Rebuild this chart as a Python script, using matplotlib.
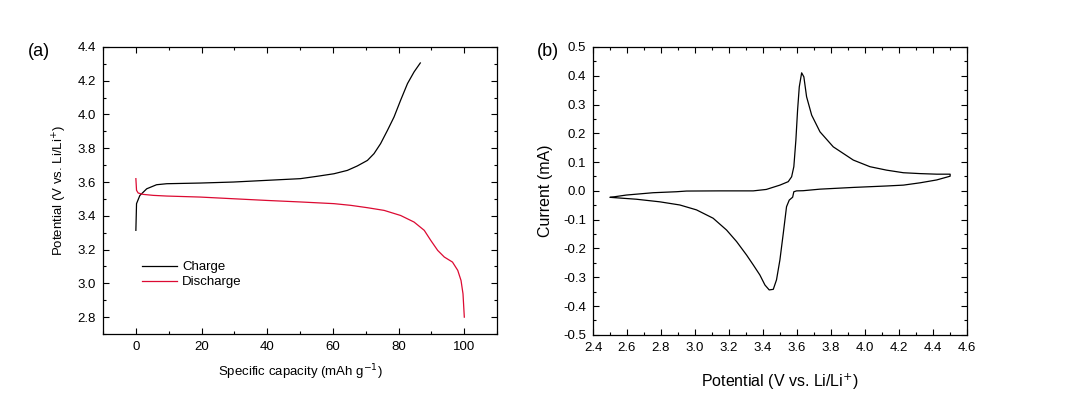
import numpy as np
from matplotlib import pyplot as plt
from matplotlib.ticker import MultipleLocator

plt.rcParams['font.family'] = ['Liberation Sans', 'DejaVu Sans']
plt.rcParams['axes.unicode_minus'] = False

# (a) charge / discharge profile
charge_cap = [0, 0.2, 1.2, 3.3, 6.3, 9.4, 19.6, 29.7, 39.9, 50.1, 55.2, 60.3, 64.4,
              67.4, 70.5, 72.5, 74.5, 76.6, 78.6, 80.6, 82.7, 84.7, 86.6]
charge_v = [3.314, 3.472, 3.52, 3.56, 3.584, 3.59, 3.594, 3.60, 3.61, 3.62, 3.634,
            3.649, 3.669, 3.695, 3.728, 3.768, 3.827, 3.906, 3.985, 4.084, 4.183,
            4.252, 4.305]

discharge_cap = [0, 0.2, 0.7, 2.2, 5.3, 9.4, 19.6, 29.7, 39.9, 50.1, 60.3, 65.4, 70.5,
                 75.6, 80.6, 84.7, 87.8, 89.8, 91.9, 93.9, 96.4, 98.0, 99.0, 99.6, 100]
discharge_v = [3.620, 3.551, 3.535, 3.527, 3.521, 3.517, 3.511, 3.501, 3.491, 3.482,
               3.472, 3.462, 3.448, 3.432, 3.402, 3.363, 3.314, 3.254, 3.195, 3.156,
               3.126, 3.077, 3.017, 2.938, 2.80]

# (b) cyclic voltammogram, anodic then cathodic sweep
cv_v = [2.502, 2.596, 2.754, 2.891, 2.95, 3.146, 3.343, 3.42, 3.50, 3.549, 3.569,
        3.582, 3.594, 3.604, 3.614, 3.628, 3.641, 3.657, 3.687, 3.736, 3.814, 3.932,
        4.03, 4.128, 4.227, 4.325, 4.423, 4.502,
        4.502, 4.423, 4.325, 4.227, 4.128, 3.932, 3.736, 3.637, 3.598, 3.582, 3.575,
        3.555, 3.539, 3.52, 3.50, 3.48, 3.461, 3.437, 3.412, 3.382, 3.343, 3.304,
        3.245, 3.186, 3.107, 3.009, 2.911, 2.793, 2.655, 2.502]
cv_i = [-0.0225, -0.0145, -0.0064, -0.003, -0.0006, 0, 0, 0.005, 0.02, 0.032, 0.049,
        0.084, 0.176, 0.28, 0.361, 0.41, 0.396, 0.327, 0.263, 0.205, 0.153, 0.107,
        0.084, 0.072, 0.063, 0.06, 0.058, 0.058,
        0.051, 0.038, 0.028, 0.02, 0.017, 0.012, 0.006, 0.0006, 0, -0.003, -0.022,
        -0.032, -0.055, -0.147, -0.24, -0.309, -0.342, -0.344, -0.327, -0.292, -0.257,
        -0.223, -0.176, -0.136, -0.095, -0.066, -0.049, -0.038, -0.029, -0.0225]

fig = plt.figure(figsize=(10.71, 4.01), dpi=100)
ax1 = fig.add_axes([0.0962, 0.167, 0.368, 0.716])
ax2 = fig.add_axes([0.5537, 0.165, 0.349, 0.718])

ax1.plot(charge_cap, charge_v, color='black', lw=0.9, label='Charge')
ax1.plot(discharge_cap, discharge_v, color='#dc0a32', lw=0.9, label='Discharge')
ax1.set_xlim(-10, 110)
ax1.set_ylim(2.7, 4.4)
ax1.xaxis.set_major_locator(MultipleLocator(20))
ax1.xaxis.set_minor_locator(MultipleLocator(10))
ax1.yaxis.set_major_locator(MultipleLocator(0.2))
ax1.yaxis.set_minor_locator(MultipleLocator(0.1))
ax1.set_xlabel('Specific capacity (mAh g$^{-1}$)', fontsize=9.5, labelpad=7)
ax1.set_ylabel('Potential (V vs. Li/Li$^{+}$)', fontsize=9.5, labelpad=6)
ax1.legend(loc='upper left', bbox_to_anchor=(0.07, 0.295), frameon=False, fontsize=9.5,
           handlelength=2.6, handletextpad=0.4, labelspacing=0.2)
ax1.text(-0.19, 0.985, '(a)', transform=ax1.transAxes, fontsize=13, va='center')

ax2.plot(cv_v, cv_i, color='black', lw=0.9)
ax2.set_xlim(2.4, 4.6)
ax2.set_ylim(-0.5, 0.5)
ax2.xaxis.set_major_locator(MultipleLocator(0.2))
ax2.xaxis.set_minor_locator(MultipleLocator(0.1))
ax2.yaxis.set_major_locator(MultipleLocator(0.1))
ax2.yaxis.set_minor_locator(MultipleLocator(0.05))
ax2.set_xlabel('Potential (V vs. Li/Li$^{+}$)', fontsize=11.5, labelpad=13)
ax2.set_ylabel('Current (mA)', fontsize=11.5, labelpad=7)
ax2.text(-0.15, 0.985, '(b)', transform=ax2.transAxes, fontsize=13, va='center')

for ax in (ax1, ax2):
    ax.tick_params(which='both', direction='in', top=True, right=True, labelsize=9.5, pad=5)
    ax.tick_params(which='major', length=4, width=0.8)
    ax.tick_params(which='minor', length=2.5, width=0.8)
    for s in ax.spines.values():
        s.set_linewidth(0.9)

fig.savefig('out.png', dpi=100)
